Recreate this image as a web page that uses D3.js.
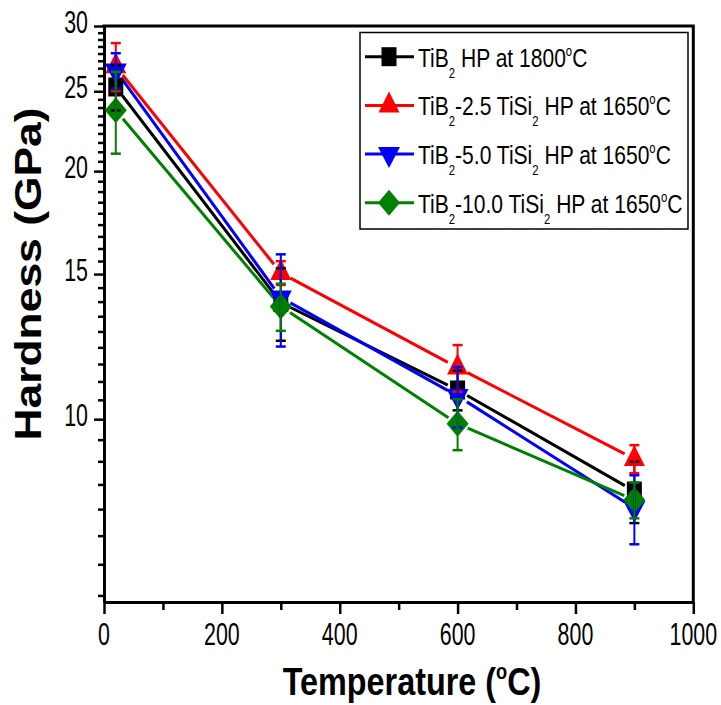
<!DOCTYPE html>
<html>
<head>
<meta charset="utf-8">
<style>
  body { margin: 0; background: #fff; }
  svg text { font-family: "Liberation Sans", Arial, sans-serif; fill: #000; }
</style>
</head>
<body>
<div id="chart"></div>
<script src="https://d3js.org/d3.v7.min.js"></script>
<script>
'use strict';

// data
var temps = [20, 300, 600, 900];
var seriesLabels = [
  'TiB_2 HP at 1800^oC',
  'TiB_2-2.5 TiSi_2 HP at 1650^oC',
  'TiB_2-5.0 TiSi_2 HP at 1650^oC',
  'TiB_2-10.0 TiSi_2 HP at 1650^oC'
];
var seriesColors = ['#000000', '#ff0000', '#0000ff', '#008000'];
var seriesShapes = ['square', 'triangle', 'triangleDown', 'diamond'];

var hardTiB2 = [25.3, 13.85, 10.85, 8.18];
var errTiB2 = [1.6, 1.4, 0.6, 0.7];
var hardSi25 = [26.8, 15.05, 11.55, 8.95];
var errSi25 = [1.8, 0.5, 0.75, 0.35];
var hardSi50 = [26.5, 14.05, 10.67, 7.8];
var errSi50 = [1.3, 1.8, 0.9, 0.75];
var hardSi100 = [23.7, 13.7, 9.87, 7.98];
var errSi100 = [2.7, 0.9, 0.7, 0.4];

var xTicks = [0, 200, 400, 600, 800, 1000];
var xMinorTicks = [100, 300, 500, 700, 900];
var yTicks = [10, 15, 20, 25, 30];

var series = [
  { label: seriesLabels[0], color: seriesColors[0], shape: seriesShapes[0], v: hardTiB2, e: errTiB2 },
  { label: seriesLabels[1], color: seriesColors[1], shape: seriesShapes[1], v: hardSi25, e: errSi25 },
  { label: seriesLabels[2], color: seriesColors[2], shape: seriesShapes[2], v: hardSi50, e: errSi50 },
  { label: seriesLabels[3], color: seriesColors[3], shape: seriesShapes[3], v: hardSi100, e: errSi100 }
];

var width = 721, height = 705;
var plotLeft = 104, plotRight = 693.3, plotTop = 26, plotBottom = 602;

var x = d3.scaleLinear().domain([0, 1000]).range([plotLeft, plotRight]);
var y = d3.scaleLog().domain([6, 30]).range([plotBottom, plotTop]);

// minor ticks on the log axis: 8 evenly spaced values between the labelled ones
var yMinorTicks = [];
var yStep = yTicks[1] - yTicks[0];
for (var m = yTicks[0] - yStep; m < yTicks[yTicks.length - 1]; m += yStep) {
  for (var k = 1; k <= 8; k++) {
    var mv = m + yStep * k / 9;
    if (mv >= 6 && mv <= 30) yMinorTicks.push(mv);
  }
}

var svg = d3.select('#chart').append('svg')
  .attr('width', width).attr('height', height)
  .style('background', '#fff');

var shapes = {
  square: 'M-7.5,-9.5h15v19h-15Z',
  triangle: 'M0,-14L10.5,7L-10.5,7Z',
  triangleDown: 'M0,14L11,-7L-11,-7Z',
  diamond: 'M0,-13L11,0L0,13L-11,0Z'
};

// text with sub (_x) and super (^x) parts
function richText(g, str, size, small, subDy, supDy) {
  var t = g.append('text').attr('font-size', size);
  var shift = 0;
  for (var i = 0; i < str.length; i++) {
    var c = str[i];
    if (c === '_' || c === '^') {
      var d = c === '_' ? subDy : supDy;
      t.append('tspan').attr('font-size', small).attr('dy', d - shift).text(str[i + 1]);
      shift = d;
      i++;
    } else {
      var run = '';
      while (i < str.length && str[i] !== '_' && str[i] !== '^') { run += str[i]; i++; }
      i--;
      t.append('tspan').attr('dy', -shift).text(run);
      shift = 0;
    }
  }
  return t;
}

// ---- axes ----
var axisG = svg.append('g');

axisG.append('g').attr('transform', 'translate(0,' + plotBottom + ')')
  .call(d3.axisBottom(x).tickValues(xTicks).tickSize(12).tickSizeOuter(0).tickFormat(''))
  .call(function(g) {
    g.select('.domain').attr('stroke-width', 3);
    g.selectAll('.tick line').attr('stroke-width', 2.5);
  });
axisG.append('g').attr('transform', 'translate(0,' + plotBottom + ')')
  .call(d3.axisBottom(x).tickValues(xMinorTicks).tickSize(8).tickSizeOuter(0).tickFormat(''))
  .call(function(g) {
    g.select('.domain').remove();
    g.selectAll('.tick line').attr('stroke-width', 2.5);
  });

axisG.append('g').attr('transform', 'translate(' + plotLeft + ',0)')
  .call(d3.axisLeft(y).tickValues(yTicks).tickSize(10).tickSizeOuter(0).tickFormat(''))
  .call(function(g) {
    g.select('.domain').attr('stroke-width', 3);
    g.selectAll('.tick line').attr('stroke-width', 2.5);
  });
axisG.append('g').attr('transform', 'translate(' + plotLeft + ',0)')
  .call(d3.axisLeft(y).tickValues(yMinorTicks).tickSize(6).tickSizeOuter(0).tickFormat(''))
  .call(function(g) {
    g.select('.domain').remove();
    g.selectAll('.tick line').attr('stroke-width', 2.5);
  });

// frame top and right
axisG.append('path')
  .attr('d', 'M' + (plotLeft - 1.5) + ',' + plotTop + 'H' + plotRight + 'V' + plotBottom)
  .attr('fill', 'none').attr('stroke', '#000').attr('stroke-width', 3);

// tick labels
xTicks.forEach(function(t) {
  axisG.append('g').attr('transform', 'translate(' + x(t) + ',645) scale(0.69,1)')
    .append('text').attr('text-anchor', 'middle').attr('font-size', 31).text(t);
});
yTicks.forEach(function(t) {
  axisG.append('g').attr('transform', 'translate(88,' + (y(t) + 7) + ') scale(0.69,1)')
    .append('text').attr('text-anchor', 'end').attr('font-size', 31).text(t);
});

// axis titles
var xt = svg.append('g').attr('transform', 'translate(412,695) scale(0.83,1)');
richText(xt, 'Temperature (^oC)', 39, 22, 0, -16)
  .attr('text-anchor', 'middle').attr('font-weight', 'bold');

svg.append('g').attr('transform', 'translate(41,274) scale(0.82,1) rotate(-90)')
  .append('text').attr('text-anchor', 'middle').attr('font-weight', 'bold')
  .attr('font-size', 44.4).text('Hardness (GPa)');

// ---- data ----
var plot = svg.append('g');
var gap = 11;

series.forEach(function(s) {
  var pts = temps.map(function(t, i) { return [x(t), y(s.v[i])]; });
  for (var i = 0; i < pts.length - 1; i++) {
    var p0 = pts[i], p1 = pts[i + 1];
    var dx = p1[0] - p0[0], dy = p1[1] - p0[1];
    var len = Math.sqrt(dx * dx + dy * dy);
    var ux = dx / len, uy = dy / len;
    plot.append('line')
      .attr('x1', p0[0] + ux * gap).attr('y1', p0[1] + uy * gap)
      .attr('x2', p1[0] - ux * gap).attr('y2', p1[1] - uy * gap)
      .attr('stroke', s.color).attr('stroke-width', 3);
  }
});

series.forEach(function(s) {
  plot.selectAll(null).data(temps).enter().append('path')
    .attr('d', shapes[s.shape])
    .attr('transform', function(t, i) { return 'translate(' + x(t) + ',' + y(s.v[i]) + ')'; })
    .attr('fill', s.color);
});

series.forEach(function(s) {
  temps.forEach(function(t, i) {
    var cx = x(t), yt = y(s.v[i] + s.e[i]), yb = y(s.v[i] - s.e[i]);
    var eg = plot.append('g').attr('stroke', s.color);
    eg.append('line').attr('x1', cx).attr('x2', cx).attr('y1', yt).attr('y2', yb).attr('stroke-width', 2);
    eg.append('line').attr('x1', cx - 5).attr('x2', cx + 5).attr('y1', yt).attr('y2', yt).attr('stroke-width', 2.5);
    eg.append('line').attr('x1', cx - 5).attr('x2', cx + 5).attr('y1', yb).attr('y2', yb).attr('stroke-width', 2.5);
  });
});

// ---- legend ----
var legend = svg.append('g');
legend.append('rect')
  .attr('x', 360).attr('y', 32.5).attr('width', 328).attr('height', 196.5)
  .attr('fill', '#fff').attr('stroke', '#000').attr('stroke-width', 1.5);

series.forEach(function(s, i) {
  var base = 66.7 + i * 48.7;
  var cy = base - 10;
  legend.append('line').attr('x1', 365).attr('x2', 414).attr('y1', cy).attr('y2', cy)
    .attr('stroke', s.color).attr('stroke-width', 3);
  legend.append('path').attr('d', shapes[s.shape])
    .attr('transform', 'translate(389,' + cy + ')').attr('fill', s.color);
  var lg = legend.append('g').attr('transform', 'translate(418,' + base + ') scale(0.81,1)');
  richText(lg, s.label, 26, 14, 11, -11);
});
</script>
</body>
</html>
